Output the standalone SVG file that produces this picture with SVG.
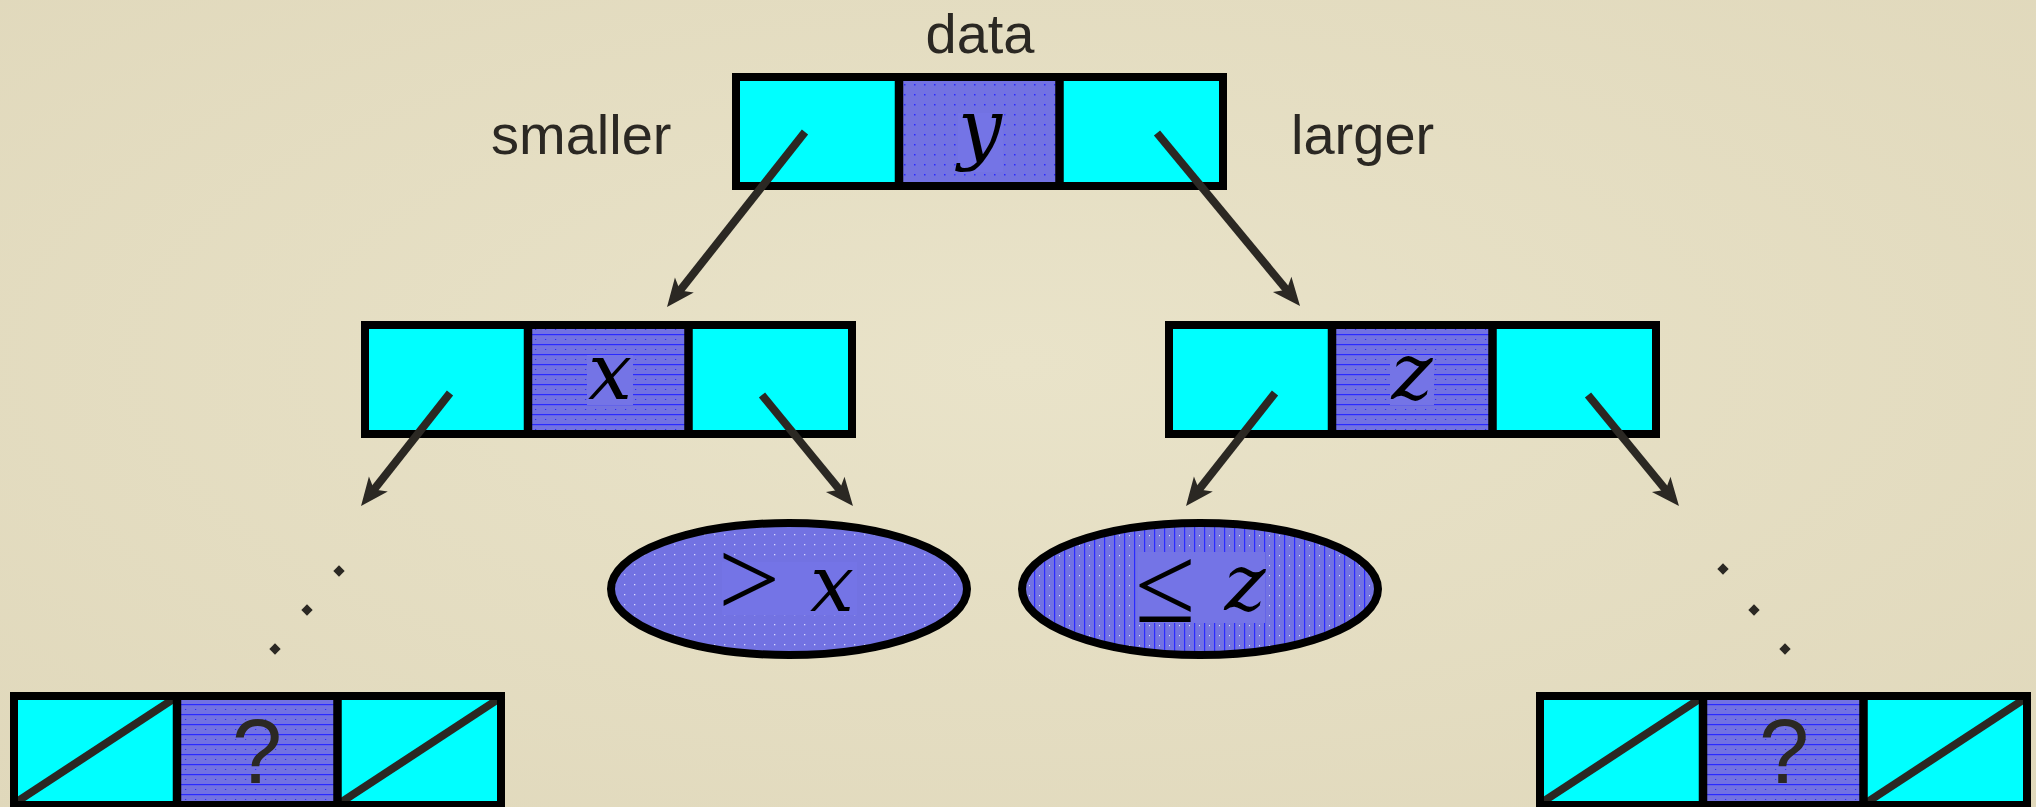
<svg xmlns="http://www.w3.org/2000/svg" width="2036" height="807" viewBox="0 0 2036 807">
<defs>
<pattern id="pDots" width="10" height="10" patternUnits="userSpaceOnUse">
<rect width="10" height="10" fill="#7272e2"/>
<rect x="4" y="4" width="1.5" height="1.5" fill="#2a2aff"/>
</pattern>
<pattern id="pH" width="10" height="10" patternUnits="userSpaceOnUse">
<rect width="10" height="10" fill="#7272e2"/>
<rect x="0" y="4" width="10" height="1.2" fill="#2a2aff"/>
<rect x="5" y="9" width="1.2" height="1.2" fill="#2a2aff"/>
</pattern>
<pattern id="pV" width="10" height="10" patternUnits="userSpaceOnUse">
<rect width="10" height="10" fill="#7272e2"/>
<rect x="4" y="0" width="1.2" height="10" fill="#2a2aff"/>
<rect x="9" y="5" width="1.2" height="1.2" fill="#e0e0ff"/>
</pattern>
<pattern id="pW" width="10" height="10" patternUnits="userSpaceOnUse">
<rect width="10" height="10" fill="#7272e2"/>
<rect x="4" y="4" width="1.3" height="1.3" fill="#d8d8ff"/>
</pattern>
<radialGradient id="bg" cx="50%" cy="45%" r="75%">
<stop offset="0" stop-color="#e9e3c9"/>
<stop offset="1" stop-color="#e0d8bb"/>
</radialGradient>
<marker id="ah" markerUnits="userSpaceOnUse" markerWidth="30" markerHeight="30" viewBox="-30 -15 30 30" refX="-14" refY="0" orient="auto" overflow="visible">
<path d="M0,0 L-28,-12 L-21,0 L-28,12 Z" fill="#2b2823"/>
</marker>
</defs>
<style>
.cy{fill:#00ffff}
.fr{fill:none;stroke:#000;stroke-width:8}
.dv{stroke:#000;stroke-width:8.5}
.lbl{font-family:"Liberation Sans",Arial,sans-serif;font-size:56px;fill:#2b2823}
.m{font-family:"DejaVu Serif","Liberation Serif",serif;font-style:italic;font-size:78px;fill:#000;text-anchor:middle}
.mu{font-family:"Liberation Serif","Times New Roman",serif;font-size:110px;fill:#000;text-anchor:middle}
.q{font-family:"Liberation Sans",Arial,sans-serif;font-size:90px;fill:#2b2823;text-anchor:middle}
.ar{stroke:#2b2823;stroke-width:8;fill:none;marker-end:url(#ah)}
.sl{stroke:#2b2823;stroke-width:8}
.dot{fill:#2b2823}
.solid{fill:#7474e6}
</style>
<rect width="2036" height="807" fill="url(#bg)"/>

<g id="labels">
<text class="lbl" x="980" y="53" text-anchor="middle">data</text>
<text class="lbl" x="491" y="154">smaller</text>
<text class="lbl" x="1291" y="154">larger</text>
</g>

<g id="node-y">
<rect class="cy" x="736" y="77" width="163" height="109"/>
<rect x="899" y="77" width="160.5" height="109" fill="url(#pDots)"/>
<rect class="cy" x="1059.5" y="77" width="163.5" height="109"/>
<rect class="solid" x="958" y="113" width="45" height="59"/>
<text class="m" x="980" y="155">y</text>
<rect class="fr" x="736" y="77" width="487" height="109"/>
<line class="dv" x1="899" y1="73" x2="899" y2="190"/>
<line class="dv" x1="1059.5" y1="73" x2="1059.5" y2="190"/>
</g>

<g id="node-x">
<rect class="cy" x="365" y="325" width="163" height="109"/>
<rect x="528" y="325" width="160.5" height="109" fill="url(#pH)"/>
<rect class="cy" x="688.5" y="325" width="163.5" height="109"/>
<rect class="solid" x="587" y="355" width="46" height="50"/>
<text class="m" x="610" y="399">x</text>
<rect class="fr" x="365" y="325" width="487" height="109"/>
<line class="dv" x1="528" y1="321" x2="528" y2="438"/>
<line class="dv" x1="688.5" y1="321" x2="688.5" y2="438"/>
</g>

<g id="node-z">
<rect class="cy" x="1169" y="325" width="163" height="109"/>
<rect x="1332" y="325" width="160.5" height="109" fill="url(#pH)"/>
<rect class="cy" x="1492.5" y="325" width="163.5" height="109"/>
<rect class="solid" x="1390" y="355" width="44" height="50"/>
<text class="m" x="1412" y="399">z</text>
<rect class="fr" x="1169" y="325" width="487" height="109"/>
<line class="dv" x1="1332" y1="321" x2="1332" y2="438"/>
<line class="dv" x1="1492.5" y1="321" x2="1492.5" y2="438"/>
</g>

<g id="ellipse-gt-x">
<ellipse cx="789" cy="589" rx="178" ry="66" fill="url(#pW)" stroke="#000" stroke-width="8"/>
<rect class="solid" x="722" y="562" width="135" height="53"/>
<text class="mu" x="749" y="616">&gt;</text>
<text class="m" x="832" y="611">x</text>
</g>

<g id="ellipse-le-z">
<ellipse cx="1200" cy="589" rx="178" ry="66" fill="url(#pV)" stroke="#000" stroke-width="8"/>
<rect class="solid" x="1138" y="552" width="127" height="71"/>
<text class="mu" x="1165" y="622">≤</text>
<text class="m" x="1245" y="610">z</text>
</g>

<g id="node-bottom-left">
<rect class="cy" x="14" y="696" width="163" height="109"/>
<rect x="177" y="696" width="160.5" height="109" fill="url(#pH)"/>
<rect class="cy" x="337.5" y="696" width="163.5" height="109"/>
<text class="q" x="257" y="783">?</text>
<line class="sl" x1="15" y1="803" x2="178" y2="696"/>
<line class="sl" x1="340" y1="803" x2="503" y2="696"/>
<rect class="fr" x="14" y="696" width="487" height="109"/>
<line class="dv" x1="177" y1="692" x2="177" y2="809"/>
<line class="dv" x1="337.5" y1="692" x2="337.5" y2="809"/>
</g>

<g id="node-bottom-right">
<rect class="cy" x="1540" y="696" width="163" height="109"/>
<rect x="1703" y="696" width="160.5" height="109" fill="url(#pH)"/>
<rect class="cy" x="1863.5" y="696" width="163.5" height="109"/>
<text class="q" x="1784" y="783">?</text>
<line class="sl" x1="1541" y1="803" x2="1704" y2="696"/>
<line class="sl" x1="1866" y1="803" x2="2029" y2="696"/>
<rect class="fr" x="1540" y="696" width="487" height="109"/>
<line class="dv" x1="1703" y1="692" x2="1703" y2="809"/>
<line class="dv" x1="1863.5" y1="692" x2="1863.5" y2="809"/>
</g>

<g id="ellipsis-left">
<rect class="dot" x="335" y="567" width="8" height="8" transform="rotate(45 339 571)"/>
<rect class="dot" x="303" y="606" width="8" height="8" transform="rotate(45 307 610)"/>
<rect class="dot" x="271" y="645" width="8" height="8" transform="rotate(45 275 649)"/>
</g>
<g id="ellipsis-right">
<rect class="dot" x="1719" y="565" width="8" height="8" transform="rotate(45 1723 569)"/>
<rect class="dot" x="1750" y="606" width="8" height="8" transform="rotate(45 1754 610)"/>
<rect class="dot" x="1781" y="645" width="8" height="8" transform="rotate(45 1785 649)"/>
</g>

<g id="connectors">
<line class="ar" x1="805" y1="132" x2="675.7" y2="296"/>
<line class="ar" x1="1157" y1="133" x2="1291.1" y2="295.2"/>
<line class="ar" x1="450" y1="393" x2="369.7" y2="495"/>
<line class="ar" x1="762" y1="395" x2="844.1" y2="495.2"/>
<line class="ar" x1="1275" y1="393" x2="1194.7" y2="495"/>
<line class="ar" x1="1588" y1="395" x2="1670.1" y2="495.2"/>
</g>
</svg>
